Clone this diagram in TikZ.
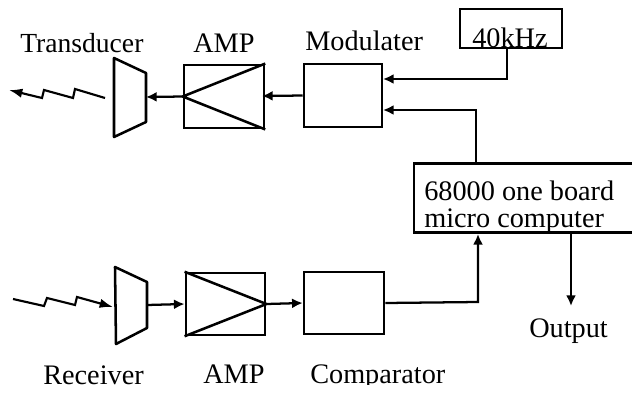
\documentclass[tikz,border=0pt]{standalone}
\usepackage{fontspec}
\setmainfont{Liberation Serif}
\usetikzlibrary{arrows.meta}
\tikzset{
  x=0.75pt,y=-0.75pt,
  lbl/.style={anchor=base west,inner sep=0pt,font=\fontsize{21.2}{25}\selectfont,text=black},
  blk/.style={draw=black,line width=1.9pt,inner sep=0pt},
  shp/.style={draw=black,line width=1.9pt,line join=round},
  wire/.style={draw=black,line width=1.7pt},
  arr/.style={wire,-{Latex[length=8pt,width=7.5pt]}},
  bolt/.style={draw=black,line width=1.6pt}
}
\begin{document}
\begin{tikzpicture}
\useasboundingbox (0,0) rectangle (632,393);
% blocks
\node[blk,minimum width=60pt,minimum height=47.5pt] (amp1) at (224,96.5) {};
\node[blk,minimum width=58.5pt,minimum height=47.5pt] (mod) at (343,95.5) {};
\node[blk,minimum width=76.5pt,minimum height=29pt] (khz) at (511,28.5) {};
\node[blk,minimum width=165pt,minimum height=52pt] (comp) at (524,198) {};
\node[blk,minimum width=59.5pt,minimum height=46.5pt] (amp2) at (225.5,304) {};
\node[blk,minimum width=60pt,minimum height=46.5pt] (cmp) at (344,303) {};
% transducer and receiver
\coordinate (t1) at (114,58); \coordinate (t2) at (146,73);
\coordinate (t3) at (146,122); \coordinate (t4) at (114,137);
\coordinate (r1) at (115,267); \coordinate (r2) at (147,282);
\coordinate (r3) at (147,328); \coordinate (r4) at (116,344);
\draw[shp] (t1)--(t2)--(t3)--(t4)--cycle;
\draw[shp] (r1)--(r2)--(r3)--(r4)--cycle;
% amplifier triangles
\draw[shp] (amp1.north east)--(amp1.west)--(amp1.south east);
\draw[shp] (amp2.north west)--(amp2.east)--(amp2.south west);
% radio bolts
\coordinate (b1a) at (105,98); \coordinate (b1z) at (9,90);
\coordinate (b2a) at (13,299); \coordinate (b2z) at (113,307);
\draw[bolt,-{Latex[length=10pt,width=7pt]}] (b1a)--(75,89)--(73,98)--(44,90)--(42,98)--(b1z);
\draw[bolt,-{Latex[length=10pt,width=7pt]}] (b2a)--(44,306)--(47,298)--(75,305)--(77,297)--(b2z);
% connectors
\coordinate (a1) at (146,97);
\draw[arr] (amp1.west)--(a1);
\coordinate (a2) at (262,96);
\draw[arr] (mod.west)--(a2);
\coordinate (k1) at (507,79);
\coordinate (m1) at (383,79);
\draw[arr] (khz.south -| k1)--(k1)--(m1);
\coordinate (c1) at (476,110);
\coordinate (m2) at (383,110);
\draw[arr] (comp.north -| c1)--(c1)--(m2);
\coordinate (a3) at (147,305);
\draw[arr] (a3)--(amp2.west);
\draw[arr] (amp2.east)--(cmp.west);
\coordinate (c2) at (478,302);
\draw[arr] (cmp.east)--(c2)--(comp.south -| c2);
\coordinate (o1) at (571,306);
\draw[arr] (comp.south -| o1)--(o1);
% labels
\node[lbl,font=\fontsize{20.7}{25}\selectfont] (ltr) at (20,52) {Transducer};
\node[lbl] (lamp1) at (193,52) {AMP};
\node[lbl] (lmod) at (305,50) {Modulater};
\node[lbl] (lkhz) at (472,47) {40kHz};
\node[lbl] (lc1) at (424,200) {68000 one board};
\node[lbl] (lc2) at (424,227) {micro computer};
\node[lbl] (lout) at (529,337) {Output};
\begin{scope}
\clip (0,340) rectangle (632,384);
\node[lbl] (lrec) at (43,384) {Receiver};
\node[lbl] (lamp2) at (203,383) {AMP};
\node[lbl] (lcmp) at (310,383) {Comparator};
\end{scope}
\end{tikzpicture}
\end{document}
